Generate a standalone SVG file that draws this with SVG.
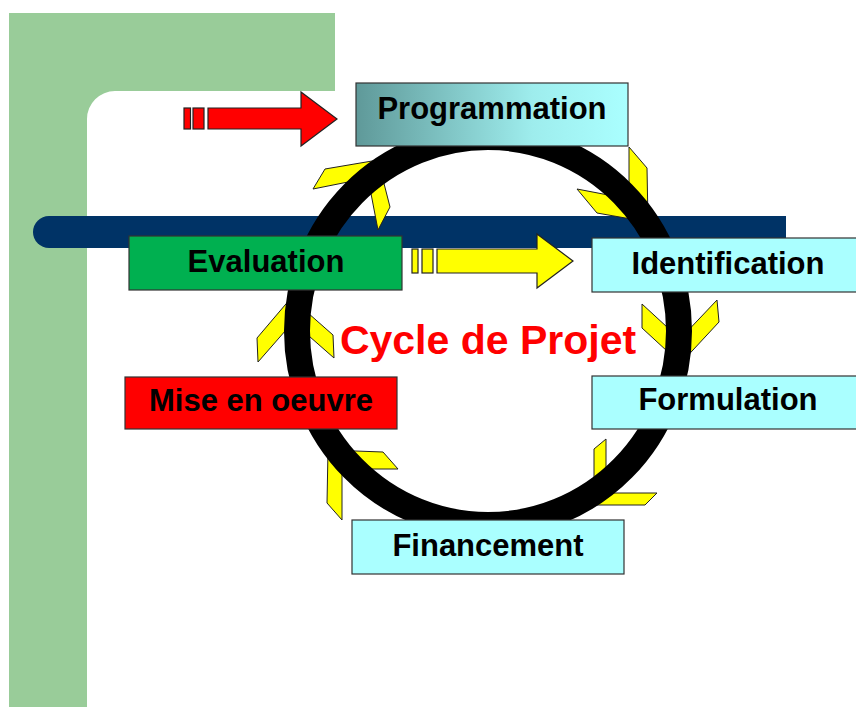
<svg xmlns="http://www.w3.org/2000/svg" width="856" height="707" viewBox="0 0 856 707">
  <defs>
    <linearGradient id="progFill" x1="0" y1="0" x2="1" y2="0">
      <stop offset="0" stop-color="#5F9999"/>
      <stop offset="0.65" stop-color="#9EEDED"/>
      <stop offset="1" stop-color="#AAFFFF"/>
    </linearGradient>
  </defs>
  <style>
    .label { font-family: "Liberation Sans", Arial, sans-serif; font-weight: bold; font-size: 31px; fill: #000; text-anchor: middle; }
    .title { font-family: "Liberation Sans", Arial, sans-serif; font-weight: bold; font-size: 41px; fill: #FF0000; text-anchor: middle; }
    .box { stroke: #333; stroke-width: 1.2; }
    .cyan { fill: #AAFFFF; }
    .wing { fill: #FFFF00; stroke: #222; stroke-width: 1; stroke-linejoin: miter; }
    .ring { fill: none; stroke: #000; stroke-width: 26; }
    .arrow { stroke: #222; stroke-width: 1.2; }
  </style>

  <!-- backdrop: green frame and navy band -->
  <g id="backdrop">
    <path d="M9,13 H335 V91 H115 A28,28 0 0 0 87,119 V707 H9 Z" fill="#99CC99"/>
    <path d="M49,216 H786 V248 H49 A16,16 0 0 1 49,216 Z" fill="#003366"/>
  </g>

  <g id="connectors">
    <!-- chevrons along the cycle (clockwise) -->
    <g id="chevrons">
      <!-- top left -->
      <polygon class="wing" points="325,169 313,189 368,178 378,160"/>
      <polygon class="wing" points="390,207 378,230 368,178 378,160"/>
      <!-- top right -->
      <polygon class="wing" points="629,147 647,168 648,222 629,199"/>
      <polygon class="wing" points="577,189 597,213 648,222 629,199"/>
      <!-- right -->
      <polygon class="wing" points="642,304 642,328 680,363 680,339"/>
      <polygon class="wing" points="717,300 719,322 680,364 680,339"/>
      <!-- bottom right -->
      <polygon class="wing" points="606,439 594,449 594,505 606,493"/>
      <polygon class="wing" points="657,493 645,505 594,505 606,493"/>
      <!-- bottom left -->
      <polygon class="wing" points="327,503 342,520 342,469 328,450"/>
      <polygon class="wing" points="383,452 398,469 342,469 328,450"/>
      <!-- left -->
      <polygon class="wing" points="257,338 258,362 293,322 291,298"/>
      <polygon class="wing" points="333,335 334,358 293,322 291,298"/>
    </g>

    <!-- cycle ring -->
    <ellipse class="ring" cx="488" cy="331" rx="191" ry="194"/>

    <!-- entry arrow into Programmation -->
    <g id="arrow-entry" class="arrow" fill="#FF0000">
      <rect x="184" y="108" width="6.5" height="21"/>
      <rect x="193" y="108" width="11" height="21"/>
      <polygon points="208,108 301,108 301,92 337,119 301,146 301,129 208,129"/>
    </g>

    <!-- feedback arrow Evaluation to Identification -->
    <g id="arrow-feedback" class="arrow" fill="#FFFF00">
      <rect x="412" y="249" width="6" height="24"/>
      <rect x="422" y="249" width="11" height="24"/>
      <polygon points="437,249 537,249 537,234 573,261 537,288 537,273 437,273"/>
    </g>
  </g>

  <g id="programmation">
    <rect class="box" x="356" y="83" width="272" height="63" fill="url(#progFill)"/>
    <text class="label" x="492" y="119">Programmation</text>
  </g>

  <g id="identification">
    <rect class="box cyan" x="592" y="238" width="272" height="54"/>
    <text class="label" x="728" y="274">Identification</text>
  </g>

  <g id="formulation">
    <rect class="box cyan" x="592" y="376" width="272" height="53"/>
    <text class="label" x="728" y="410">Formulation</text>
  </g>

  <g id="financement">
    <rect class="box cyan" x="352" y="520" width="272" height="54"/>
    <text class="label" x="488" y="556">Financement</text>
  </g>

  <g id="mise-en-oeuvre">
    <rect class="box" x="125" y="377" width="272" height="52" fill="#FF0000"/>
    <text class="label" x="261" y="411">Mise en oeuvre</text>
  </g>

  <g id="evaluation">
    <rect class="box" x="129" y="236" width="273" height="54" fill="#00B050"/>
    <text class="label" x="266" y="272">Evaluation</text>
  </g>

  <text class="title" x="488" y="354">Cycle de Projet</text>
</svg>
